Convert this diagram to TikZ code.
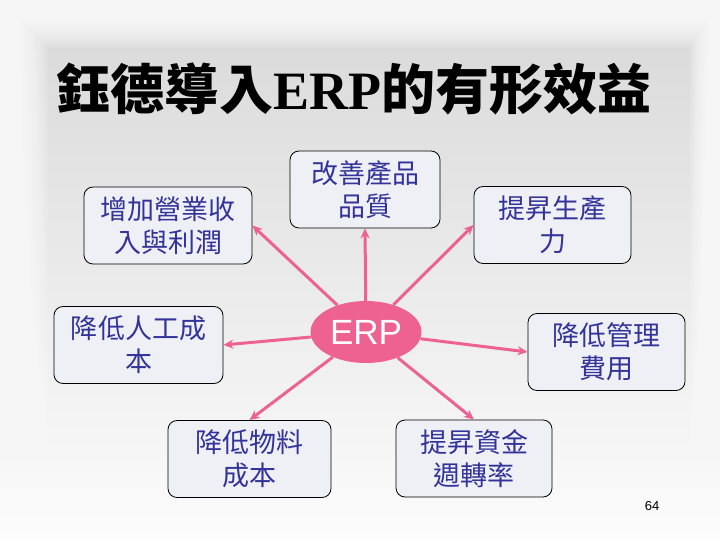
\documentclass[tikz,border=0pt]{standalone}
\usepackage{fontspec}
\usepackage{xcolor}
\usepackage{tikz}
\usetikzlibrary{shapes.geometric,arrows.meta}
\setmainfont{Liberation Serif}
\setsansfont{Liberation Sans}
\newfontfamily\cjk{Noto Sans CJK TC}
\definecolor{erppink}{RGB}{238,98,146}
\definecolor{gainblue}{RGB}{51,51,153}
\definecolor{gainfill}{RGB}{239,240,246}
\definecolor{paneltop}{RGB}{216,216,216}
\definecolor{panelbottom}{RGB}{252,252,252}

\begin{document}
\begin{tikzpicture}[x=1bp,y=-1bp,
        gain/.style={draw=black,line width=0.8pt,rounded corners=9bp,fill=gainfill,text=gainblue,
            align=center,minimum height=77bp,inner sep=0pt,font=\cjk\fontsize{27bp}{33bp}\selectfont},
        spoke/.style={draw=erppink,line width=3bp,-{Stealth[length=10bp,width=9bp]}}]
            \useasboundingbox (0,0) rectangle (720,540);
            \shade [top color=paneltop,bottom color=panelbottom] (0,0) rectangle (720,540);
            \foreach \i in {1,...,24}
                \fill [white,opacity=0.11,even odd rule] (0,0) rectangle (720,540)
                    (2*\i,2*\i) rectangle (720-1.25*\i,540-\i);

            \node (title) at (354,89) {\fontsize{54bp}{54bp}\selectfont\bfseries{\cjk 鈺德導入}ERP{\cjk 的有形效益}};

            \node [gain,minimum width=168bp] (revenue) at (168,225.5) {增加營業收\\入與利潤};
            \node [gain,minimum width=150bp] (quality) at (365,189.5) {改善產品\\品質};
            \node [gain,minimum width=157bp] (output) at (552.5,225) {提昇生產\\力};
            \node [gain,minimum width=169bp] (labour) at (138.5,345) {降低人工成\\本};
            \node [gain,minimum width=157bp] (overhead) at (606.5,352) {降低管理\\費用};
            \node [gain,minimum width=163bp] (material) at (249.5,459) {降低物料\\成本};
            \node [gain,minimum width=156bp] (capital) at (474,458.5) {提昇資金\\週轉率};

            \node [ellipse,fill=erppink,minimum width=111bp,minimum height=62bp,inner sep=0pt,text=white,
                font=\sffamily\fontsize{35bp}{35bp}\selectfont] (erp) at (366,332) {ERP};

            \draw [spoke] (erp) -- (revenue.east);
            \draw [spoke] (erp) -- (quality.south);
            \draw [spoke] (erp) -- (output.west);
            \draw [spoke] (erp) -- (labour.east);
            \draw [spoke] (erp) -- (overhead.west);
            \draw [spoke] (erp) -- (material.north);
            \draw [spoke] (erp) -- (capital.north);

            \node [font=\sffamily\fontsize{13bp}{13bp}\selectfont] (page) at (652,506) {64};
        \end{tikzpicture}
\end{document}
